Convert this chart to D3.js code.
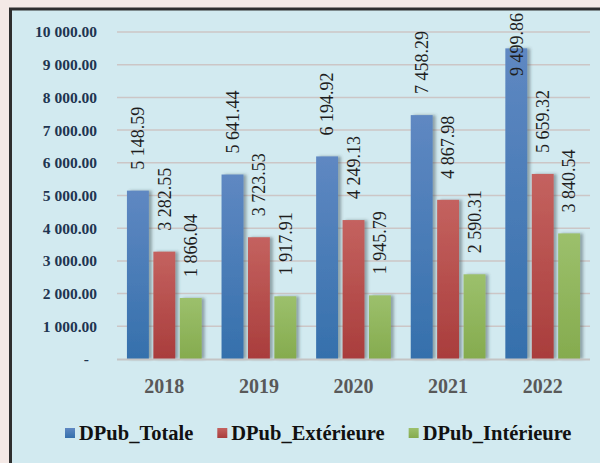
<!DOCTYPE html>
<html>
<head>
<meta charset="utf-8">
<script src="https://cdn.jsdelivr.net/npm/d3@7"></script>
<style>
  html, body { margin: 0; padding: 0; background: #f4e9e6; }
  svg { display: block; }
  svg text { font-family: "Liberation Serif", "Times New Roman", "DejaVu Serif", serif; }
</style>
</head>
<body>
<svg id="chart" width="600" height="463"></svg>
<script>
const years = ['2018', '2019', '2020', '2021', '2022'];
const seriesNames = ['DPub_Totale', 'DPub_Extérieure', 'DPub_Intérieure'];
const totale = [5148.59, 5641.44, 6194.92, 7458.29, 9499.86];
const exterieure = [3282.55, 3723.53, 4249.13, 4867.98, 5659.32];
const interieure = [1866.04, 1917.91, 1945.79, 2590.31, 3840.54];
const yTicks = [0, 1000, 2000, 3000, 4000, 5000, 6000, 7000, 8000, 9000, 10000];

const seriesValues = [totale, exterieure, interieure];
const colors = [
  { top: '#5f88c2', bottom: '#3570ac' },
  { top: '#c4625f', bottom: '#a93d3c' },
  { top: '#9cc06c', bottom: '#85ab4e' }
];

const serif = '"Liberation Serif", "Times New Roman", "DejaVu Serif", serif';
const loc = d3.formatLocale({ decimal: '.', thousands: ' ', grouping: [3], currency: ['', ''] });
const fmt = loc.format(',.2f');

const svg = d3.select('#chart');
const defs = svg.append('defs');

colors.forEach((c, i) => {
  const g = defs.append('linearGradient')
    .attr('id', 'grad' + i)
    .attr('x1', 0).attr('y1', 0).attr('x2', 0).attr('y2', 1);
  g.append('stop').attr('offset', '0%').attr('stop-color', c.top);
  g.append('stop').attr('offset', '100%').attr('stop-color', c.bottom);
});

const shadow = defs.append('filter').attr('id', 'shadow')
  .attr('x', '-20%').attr('y', '-10%').attr('width', '150%').attr('height', '120%');
shadow.append('feDropShadow')
  .attr('dx', 3).attr('dy', 0).attr('stdDeviation', 1.5)
  .attr('flood-color', '#3a4a50').attr('flood-opacity', 0.45);

// chart frame
svg.append('rect')
  .attr('x', 10.5).attr('y', 9)
  .attr('width', 620).attr('height', 470)
  .attr('fill', '#d2eaf0')
  .attr('stroke', '#2e2e2e').attr('stroke-width', 3);

const x0 = d3.scaleBand().domain(years).range([117, 590]).paddingInner(0.21).paddingOuter(0.105);
const x1 = d3.scaleBand().domain(d3.range(3)).range([0, x0.bandwidth()]).paddingInner(0.17);
const y = d3.scaleLinear().domain([0, 10000]).range([359, 32]);

// gridlines
svg.append('g')
  .selectAll('line')
  .data(yTicks.filter(d => d > 0))
  .join('line')
  .attr('x1', 117).attr('x2', 590)
  .attr('y1', d => y(d)).attr('y2', d => y(d))
  .attr('stroke', '#ccc6c6').attr('stroke-width', 1.5);

// y axis
const yAxis = svg.append('g')
  .attr('transform', 'translate(117,0)')
  .call(d3.axisLeft(y).tickValues(yTicks).tickSize(0).tickPadding(20)
    .tickFormat(d => d === 0 ? '-' : fmt(d)));
yAxis.attr('font-family', null).attr('font-size', null);
yAxis.select('.domain').remove();
yAxis.selectAll('text')
  .style('font-family', serif)
  .style('font-weight', 'bold')
  .style('font-size', '15.5px')
  .attr('fill', '#1f3551')
  .attr('dx', d => d === 0 ? -8 : 0);

// bars
const groups = svg.append('g')
  .selectAll('g')
  .data(years)
  .join('g')
  .attr('transform', d => `translate(${x0(d)},0)`);

groups.selectAll('rect')
  .data((d, i) => seriesValues.map((s, k) => ({ k, v: s[i] })))
  .join('rect')
  .attr('x', d => x1(d.k))
  .attr('width', x1.bandwidth())
  .attr('y', d => y(d.v))
  .attr('height', d => y(0) - y(d.v))
  .attr('fill', d => `url(#grad${d.k})`)
  .attr('filter', 'url(#shadow)');

// baseline
svg.append('line')
  .attr('x1', 117).attr('x2', 590)
  .attr('y1', y(0) + 0.5).attr('y2', y(0) + 0.5)
  .attr('stroke', '#c4c4c4').attr('stroke-width', 2);

// data labels
groups.selectAll('text.lbl')
  .data((d, i) => seriesValues.map((s, k) => ({ k, v: s[i] })))
  .join('text')
  .attr('class', 'lbl')
  .style('font-family', serif)
  .style('font-size', '18px')
  .attr('fill', '#1e1e1e')
  .attr('dy', '0.35em')
  .text(d => fmt(d.v))
  .each(function (d) {
    const len = this.getComputedTextLength();
    let yb = y(d.v) - 21;
    if (yb - len < 13) yb = 13 + len;
    const cx = x1(d.k) + x1.bandwidth() / 2;
    d3.select(this).attr('transform', `translate(${cx},${yb}) rotate(-90)`);
  });

// x labels
svg.append('g')
  .selectAll('text')
  .data(years)
  .join('text')
  .attr('x', d => x0(d) + x0.bandwidth() / 2)
  .attr('y', 393)
  .attr('text-anchor', 'middle')
  .style('font-family', serif)
  .style('font-weight', 'bold')
  .style('font-size', '20px')
  .attr('fill', '#595959')
  .text(d => d);

// legend
const legend = svg.append('g');
let lx = 65;
seriesNames.forEach((name, i) => {
  legend.append('rect')
    .attr('x', lx).attr('y', 428)
    .attr('width', 10).attr('height', 10)
    .attr('fill', `url(#grad${i})`);
  const t = legend.append('text')
    .attr('x', lx + 14).attr('y', 440)
    .style('font-family', serif)
    .style('font-weight', 'bold')
    .style('font-size', '20.5px')
    .attr('fill', '#111')
    .text(name);
  lx += 14 + t.node().getComputedTextLength() + 24;
});
</script>
</body>
</html>
